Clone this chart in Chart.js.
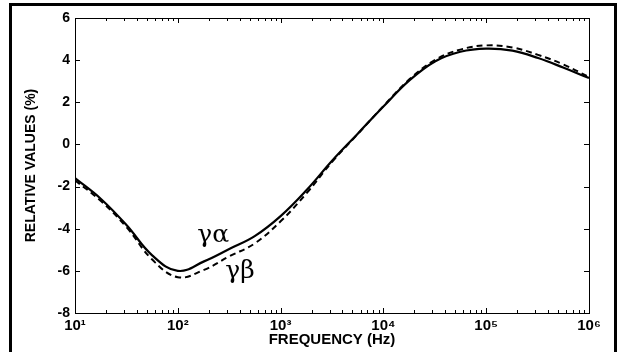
<!DOCTYPE html>
<html>
<head>
<meta charset="utf-8">
<script src="https://cdn.jsdelivr.net/npm/chart.js@4"></script>
<style>
html,body{margin:0;padding:0;background:#fff;}
#wrap{width:618px;height:352px;position:relative;}
</style>
</head>
<body>
<div id="wrap"><canvas id="c" width="618" height="352"></canvas></div>
<script>
const freqHz = [10,18,32,56,100,180,320,560,1000,1800,3200,5600,10000,18000,32000,56000,100000,180000,320000,560000,1000000];
const gammaAlpha = [-1.6,-2.6,-3.85,-5.25,-6.0,-5.55,-4.95,-4.35,-3.4,-2.15,-0.75,0.5,1.8,3.05,3.95,4.4,4.55,4.45,4.1,3.65,3.15];
const gammaBeta  = [-1.7,-2.7,-3.95,-5.45,-6.3,-5.95,-5.3,-4.7,-3.65,-2.3,-0.8,0.48,1.82,3.1,4.02,4.5,4.7,4.6,4.25,3.8,3.2];
const xTickValues = [10,100,1000,10000,100000,1000000];
const xTickExponents = ['¹','²','³','⁴','⁵','⁶'];
const yTickValues = [-8,-6,-4,-2,0,2,4,6];
const seriesLabels = ['γα','γβ'];

const PL = 75, PR = 589, PT = 18, PB = 313;

const decorPlugin = {
  id: 'decor',
  afterDraw(chart) {
    const ctx = chart.ctx;
    const xs = chart.scales.x, ys = chart.scales.y;
    const ca = chart.chartArea;
    ctx.save();
    ctx.strokeStyle = '#000';
    ctx.lineWidth = 1;
    ctx.strokeRect(Math.round(ca.left)+0.5, Math.round(ca.top)+0.5, Math.round(ca.right-ca.left), Math.round(ca.bottom-ca.top));
    ctx.beginPath();
    for (let d = 1; d <= 6; d++) {
      for (let m = 1; m <= 9; m++) {
        const v = m * Math.pow(10, d);
        if (v > 1e6 || (m===1 && d===1)) continue;
        const px = Math.round(xs.getPixelForValue(v)) + 0.5;
        const len = m === 1 ? 5 : 3;
        ctx.moveTo(px, ca.bottom); ctx.lineTo(px, ca.bottom - len);
        ctx.moveTo(px, ca.top); ctx.lineTo(px, ca.top + len);
      }
    }
    yTickValues.forEach(v => {
      const py = Math.round(ys.getPixelForValue(v)) + 0.5;
      ctx.moveTo(ca.left, py); ctx.lineTo(ca.left + 5, py);
      ctx.moveTo(ca.right, py); ctx.lineTo(ca.right - 5, py);
    });
    ctx.stroke();
    ctx.fillStyle = '#000';
    ctx.font = '25px "DejaVu Serif", "Liberation Serif", serif';
    ctx.textAlign = 'left';
    ctx.textBaseline = 'middle';
    ctx.fillText(seriesLabels[0], xs.getPixelForValue(155), ys.getPixelForValue(-4.3));
    ctx.fillText(seriesLabels[1], xs.getPixelForValue(290), ys.getPixelForValue(-6.05));
    ctx.lineWidth = 3;
    ctx.strokeRect(10.5, 4.5, 605, 360);
    ctx.restore();
  }
};

new Chart(document.getElementById('c'), {
  type: 'line',
  data: {
    labels: freqHz,
    datasets: [
      { label: seriesLabels[0], data: freqHz.map((f,i)=>({x:f,y:gammaAlpha[i]})), borderColor:'#000', borderWidth:2.2, pointRadius:0, tension:0.4, fill:false },
      { label: seriesLabels[1], data: freqHz.map((f,i)=>({x:f,y:gammaBeta[i]})), borderColor:'#000', borderWidth:2, borderDash:[6,4], pointRadius:0, tension:0.4, fill:false }
    ]
  },
  options: {
    responsive: false,
    animation: false,
    devicePixelRatio: 1,
    layout: { padding: { left: 0, right: 618 - PR, top: PT, bottom: 0 } },
    plugins: { legend: { display: false }, tooltip: { enabled: false } },
    scales: {
      x: {
        type: 'logarithmic',
        min: 10, max: 1000000,
        afterBuildTicks: s => { s.ticks = xTickValues.map(v => ({ value: v })); },
        afterFit: s => { s.height = 352 - PB; },
        grid: { display: false, drawTicks: false },
        border: { display: false },
        ticks: {
          color: '#000', autoSkip: false, maxRotation: 0, padding: 4,
          font: { family: 'Liberation Sans, Arial, sans-serif', size: 15, weight: 'bold' },
          callback: (v) => { const i = xTickValues.indexOf(v); return i >= 0 ? '10' + xTickExponents[i] : ''; }
        },
        title: { display: true, text: 'FREQUENCY (Hz)', color: '#000', padding: { top: 0, bottom: 3 },
          font: { family: 'Liberation Sans, Arial, sans-serif', size: 15, weight: 'bold' } }
      },
      y: {
        min: -8, max: 6,
        afterBuildTicks: s => { s.ticks = yTickValues.map(v => ({ value: v })); },
        afterFit: s => { s.width = PL; },
        grid: { display: false, drawTicks: false },
        border: { display: false },
        ticks: {
          color: '#000', padding: 5,
          font: { family: 'Liberation Sans, Arial, sans-serif', size: 14, weight: 'bold' }
        },
        title: { display: true, text: 'RELATIVE VALUES (%)', color: '#000', padding: { top: 23, bottom: 0 },
          font: { family: 'Liberation Sans, Arial, sans-serif', size: 14, weight: 'bold' } }
      }
    }
  },
  plugins: [decorPlugin]
});
</script>
</body>
</html>
